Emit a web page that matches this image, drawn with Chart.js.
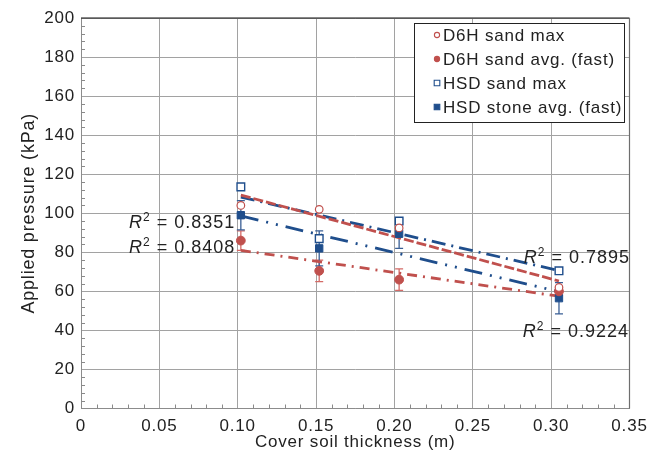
<!DOCTYPE html>
<html>
<head>
<meta charset="utf-8">
<script src="https://cdn.jsdelivr.net/npm/chart.js@4/dist/chart.umd.min.js"></script>
<style>
  html, body { margin: 0; padding: 0; background: #fff; }
  canvas { display: block; }
</style>
</head>
<body>
<canvas id="c" width="661" height="457"></canvas>
<script>
// Cover soil thickness (m) for each test
const thickness = [0.102, 0.152, 0.203, 0.305];

// Applied pressure (kPa)
const d6hSandMax  = [104, 102, 92.5, 62];
const d6hSandAvg  = [86, 70.5, 66, 60];
const hsdSandMax  = [113.5, 87, 96, 70.5];
const hsdStoneAvg = [99, 82, 89.5, 56.5];

// Half-range of the error bars on the averaged series (kPa)
const d6hSandAvgErr  = [5, 5.5, 5.5, 2];
const hsdStoneAvgErr = [7.5, 9, 7.5, 8];

// Linear trend lines, end points over the tested thickness range
const trendX        = [0.102, 0.305];
const trendD6hMax   = [109.3, 65.3];
const trendHsdMax   = [108.3, 70.6];
const trendHsdStone = [98.6, 59.8];
const trendD6hAvg   = [81, 57.5];

// Coefficients of determination and where their labels sit (data units)
const r2Values = ['0.8351', '0.8408', '0.7895', '0.9224'];
const r2X = [0.0306, 0.0306, 0.2825, 0.2819];
const r2Y = [96, 83.2, 77.6, 39.7];

const seriesNames = ['D6H sand max', 'D6H sand avg. (fast)', 'HSD sand max', 'HSD stone avg. (fast)'];
const xTickLabels = ['0', '0.05', '0.10', '0.15', '0.20', '0.25', '0.30', '0.35'];
const yTickLabels = ['0', '20', '40', '60', '80', '100', '120', '140', '160', '180', '200'];

const FONT = "'Liberation Sans', Arial, Helvetica, sans-serif";
const RED = '#c0504d';
const BLUE = '#1f4e8c';
const TEXT = '#222';

const pts = (xs, ys) => xs.map((x, i) => ({ x, y: ys[i] }));

const markerStyles = [
  { pointStyle: 'circle', pointRadius: 3.8, backgroundColor: '#fff', borderColor: RED, borderWidth: 1.2 },
  { pointStyle: 'circle', pointRadius: 4.4, backgroundColor: RED, borderColor: RED, borderWidth: 1 },
  { pointStyle: 'rect', pointRadius: 5.4, backgroundColor: '#fff', borderColor: BLUE, borderWidth: 1.4 },
  { pointStyle: 'rect', pointRadius: 5.2, backgroundColor: BLUE, borderColor: BLUE, borderWidth: 1 }
];

const seriesValues = [d6hSandMax, d6hSandAvg, hsdSandMax, hsdStoneAvg];

const markerSets = seriesValues.map((vals, i) => Object.assign({
  label: seriesNames[i],
  data: pts(thickness, vals),
  showLine: false,
  order: 0
}, markerStyles[i]));

const trendLine = (vals, color, dash) => ({
  label: '',
  data: pts(trendX, vals),
  showLine: true,
  borderColor: color,
  borderWidth: 2.8,
  borderDash: dash,
  borderCapStyle: 'butt',
  pointRadius: 0,
  fill: false,
  order: 1
});

const trendSets = [
  trendLine(trendD6hMax, RED, [10, 3]),
  trendLine(trendHsdMax, BLUE, [14, 6, 2, 6]),
  trendLine(trendHsdStone, BLUE, [18, 8, 2, 8, 2, 8]),
  trendLine(trendD6hAvg, RED, [10, 6, 2, 6])
];

// Error bars, minor ticks, frame, legend box and R² labels
const decor = {
  id: 'decor',
  beforeDraw(chart) {
    chart.ctx.letterSpacing = '0.8px';
  },
  beforeDatasetsDraw(chart) {
    const { ctx, scales: { x, y } } = chart;
    const bars = [
      { vals: d6hSandAvg, err: d6hSandAvgErr, color: '#d46a66' },
      { vals: hsdStoneAvg, err: hsdStoneAvgErr, color: '#3a5f95' }
    ];
    ctx.save();
    ctx.lineWidth = 1.3;
    bars.forEach(b => {
      ctx.strokeStyle = b.color;
      thickness.forEach((t, i) => {
        const px = x.getPixelForValue(t);
        const top = y.getPixelForValue(b.vals[i] + b.err[i]);
        const bot = y.getPixelForValue(b.vals[i] - b.err[i]);
        ctx.beginPath();
        ctx.moveTo(px, top); ctx.lineTo(px, bot);
        ctx.moveTo(px - 4, top); ctx.lineTo(px + 4, top);
        ctx.moveTo(px - 4, bot); ctx.lineTo(px + 4, bot);
        ctx.stroke();
      });
    });
    ctx.restore();
  },
  afterDraw(chart) {
    const { ctx, chartArea: a, scales: { x, y } } = chart;
    ctx.save();

    // minor ticks inside the axes
    ctx.strokeStyle = '#8a8a8a';
    ctx.lineWidth = 1;
    ctx.beginPath();
    for (let k = 1; k < 35; k++) {
      if (k % 5 === 0) continue;
      const px = Math.round(x.getPixelForValue(k / 100)) + 0.5;
      ctx.moveTo(px, a.bottom); ctx.lineTo(px, a.bottom - 4);
    }
    for (let v = 4; v < 200; v += 4) {
      if (v % 20 === 0) continue;
      const py = Math.round(y.getPixelForValue(v)) + 0.5;
      ctx.moveTo(a.left, py); ctx.lineTo(a.left + 4, py);
    }
    ctx.stroke();

    // frame top and right
    ctx.strokeStyle = '#111';
    ctx.lineWidth = 1.2;
    ctx.beginPath();
    ctx.moveTo(a.left, a.top); ctx.lineTo(a.right, a.top);
    ctx.stroke();
    ctx.strokeStyle = '#6e6e6e';
    ctx.beginPath();
    ctx.moveTo(a.right, a.top); ctx.lineTo(a.right, a.bottom);
    ctx.stroke();

    // legend
    const bw = 210, bh = 99;
    const bx = a.right - 5.5 - bw, by = a.top + 5;
    ctx.fillStyle = '#fff';
    ctx.fillRect(bx, by, bw, bh);
    ctx.strokeStyle = '#222';
    ctx.lineWidth = 1;
    ctx.strokeRect(Math.round(bx) + 0.5, Math.round(by) + 0.5, bw, bh);
    ctx.font = '17px ' + FONT;
    ctx.letterSpacing = '0.8px';
    ctx.textBaseline = 'middle';
    ctx.textAlign = 'left';
    seriesNames.forEach((name, i) => {
      const cy = by + 12 + i * 24;
      const mx = bx + 23;
      const s = markerStyles[i];
      ctx.lineWidth = 1.1;
      ctx.strokeStyle = s.borderColor;
      ctx.fillStyle = s.backgroundColor;
      ctx.beginPath();
      if (s.pointStyle === 'circle') {
        ctx.arc(mx, cy, 2.6, 0, Math.PI * 2);
      } else {
        ctx.rect(mx - 2.8, cy - 2.8, 5.6, 5.6);
      }
      ctx.fill();
      ctx.stroke();
      ctx.fillStyle = TEXT;
      ctx.fillText(name, bx + 29, cy + 1);
    });

    // R² labels
    ctx.fillStyle = TEXT;
    ctx.textBaseline = 'alphabetic';
    r2Values.forEach((val, i) => {
      let px = x.getPixelForValue(r2X[i]);
      const base = y.getPixelForValue(r2Y[i]) + 6.5;
      ctx.letterSpacing = '0px';
      ctx.font = 'italic 18px ' + FONT;
      ctx.fillText('R', px, base);
      px += ctx.measureText('R').width + 1;
      ctx.font = '12px ' + FONT;
      ctx.fillText('2', px, base - 7);
      px += ctx.measureText('2').width;
      ctx.letterSpacing = '1px';
      ctx.font = '18px ' + FONT;
      ctx.fillText(' = ' + val, px + 1, base);
    });

    ctx.restore();
  }
};

Chart.defaults.font.family = FONT;
Chart.defaults.color = TEXT;

new Chart(document.getElementById('c'), {
  type: 'scatter',
  data: { datasets: [...markerSets, ...trendSets] },
  options: {
    responsive: false,
    devicePixelRatio: 1,
    animation: false,
    layout: { padding: { left: 0, top: 18, right: 31.5, bottom: 0 } },
    plugins: { legend: { display: false }, tooltip: { enabled: false } },
    scales: {
      x: {
        type: 'linear',
        min: 0, max: 0.35,
        ticks: {
          stepSize: 0.05,
          padding: 8,
          color: TEXT,
          font: { size: 17 },
          maxRotation: 0,
          callback: v => xTickLabels[Math.round(v / 0.05)]
        },
        grid: { color: '#a2a2a2', lineWidth: 1, drawTicks: false },
        border: { color: '#8c8c8c' },
        title: { display: true, text: 'Cover soil thickness (m)', color: TEXT, font: { size: 17 }, padding: { top: 0, bottom: 4 } },
        afterFit: s => { s.height = 48.5; }
      },
      y: {
        min: 0, max: 200,
        ticks: {
          stepSize: 20,
          padding: 6,
          color: TEXT,
          font: { size: 17 },
          callback: v => yTickLabels[Math.round(v / 20)]
        },
        grid: { color: '#a2a2a2', lineWidth: 1, drawTicks: false },
        border: { color: '#8c8c8c' },
        title: { display: true, text: 'Applied pressure (kPa)', color: TEXT, font: { size: 18 }, padding: { top: 18, bottom: 0 } },
        afterFit: s => { s.width = 81; }
      }
    }
  },
  plugins: [decor]
});
</script>
</body>
</html>
